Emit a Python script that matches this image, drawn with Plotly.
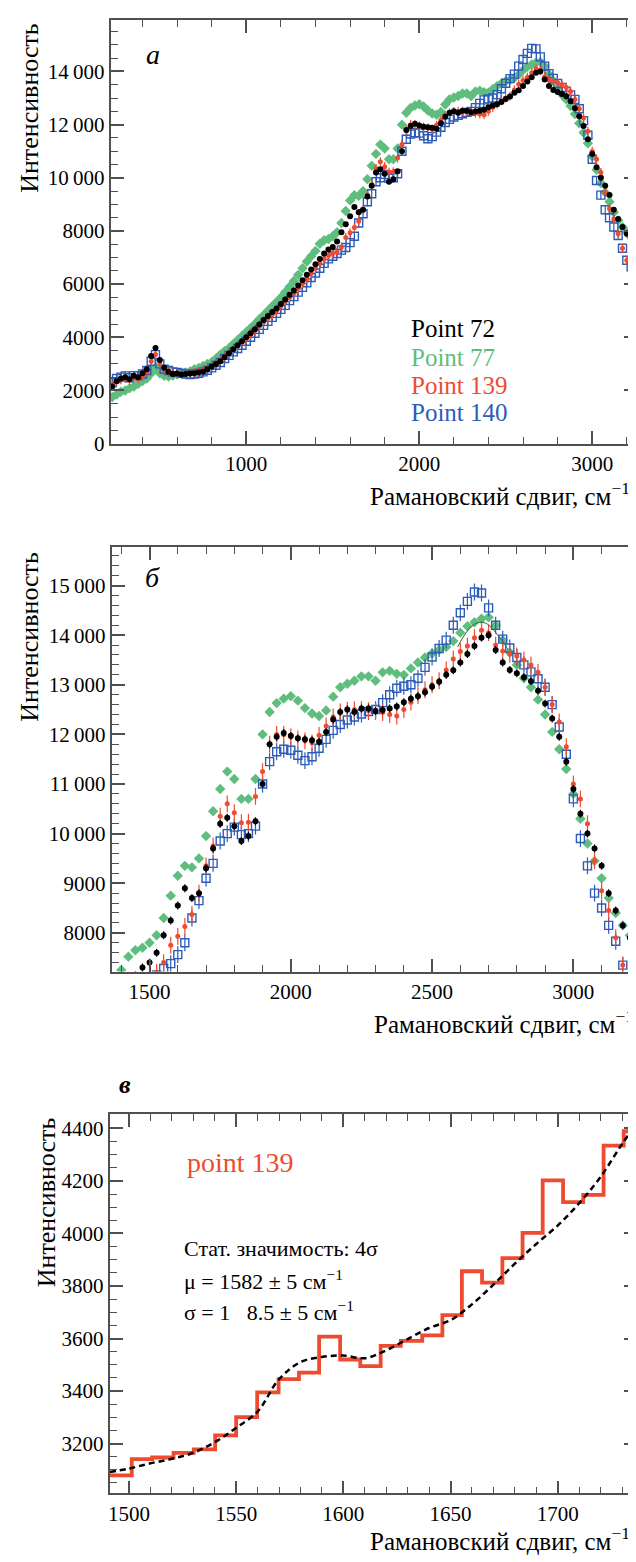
import plotly.graph_objects as go

W, H = 636, 1562
FONT = "'Liberation Serif', 'Times New Roman', Times, serif"


def px(x):
    return x / W


def py(y):
    return 1 - y / H


# ---------------- data: panels a and b (same spectra) ----------------
raman_shift = [
    225, 250, 275, 300, 325, 350, 375, 400, 425, 450,
    475, 500, 525, 550, 575, 600, 625, 650, 675, 700,
    725, 750, 775, 800, 825, 850, 875, 900, 925, 950,
    975, 1000, 1025, 1050, 1075, 1100, 1125, 1150, 1175, 1200,
    1225, 1250, 1275, 1300, 1325, 1350, 1375, 1400, 1425, 1450,
    1475, 1500, 1525, 1550, 1575, 1600, 1625, 1650, 1675, 1700,
    1725, 1750, 1775, 1800, 1825, 1850, 1875, 1900, 1925, 1950,
    1975, 2000, 2025, 2050, 2075, 2100, 2125, 2150, 2175, 2200,
    2225, 2250, 2275, 2300, 2325, 2350, 2375, 2400, 2425, 2450,
    2475, 2500, 2525, 2550, 2575, 2600, 2625, 2650, 2675, 2700,
    2725, 2750, 2775, 2800, 2825, 2850, 2875, 2900, 2925, 2950,
    2975, 3000, 3025, 3050, 3075, 3100, 3125, 3150, 3175, 3200,
    3225, 3250,
]

point72 = [
    2150, 2350, 2450, 2500, 2420, 2550, 2500, 2650, 2800, 3300,
    3600, 3150, 2850, 2700, 2620, 2640, 2600, 2620, 2640, 2650,
    2680, 2700, 2800, 2900, 3000, 3100, 3250, 3400, 3550, 3700,
    3850, 4000, 4150, 4300, 4480, 4650, 4800, 4950, 5080, 5250,
    5420, 5600, 5760, 5950, 6150, 6350, 6550, 6750, 6950, 7150,
    7300, 7400, 7600, 7950, 8250, 8550, 8900, 8700, 8800, 9300,
    9700, 10200, 10320, 10150, 9850, 9950, 10250, 11000, 11800, 11950,
    12030, 11970, 11920, 11900, 11880, 11850, 12050, 12300, 12450, 12500,
    12450, 12520, 12520, 12470, 12490, 12520, 12560, 12650, 12720, 12770,
    12850, 12960, 13060, 13200, 13290, 13450, 13620, 13780, 13950, 14000,
    13700, 13450, 13300, 13230, 13150, 13070, 12880, 12620, 12320, 11950,
    11450, 10900, 10400, 10000, 9700, 9350, 8800, 8450, 8150, 7900,
    7720, 7550,
]

point77 = [
    1750, 1850, 1950, 2000, 2080, 2150, 2250, 2350, 2450, 2650,
    2850, 2650, 2550, 2520, 2560, 2600, 2640, 2680, 2720, 2800,
    2850, 2920, 3000, 3070, 3200, 3350, 3480, 3600, 3750, 3900,
    4050, 4200, 4350, 4500, 4680, 4830, 5000, 5170, 5330, 5500,
    5700, 5900, 6120, 6350, 6600, 6850, 7050, 7250, 7520, 7650,
    7700, 7800, 7950, 8300, 8750, 9150, 9350, 9320, 9500, 9950,
    10450, 10900, 11250, 11100, 10700, 10700, 11100, 12000, 12450, 12630,
    12720, 12770, 12680, 12530, 12420, 12370, 12480, 12760, 12950, 13020,
    13080, 13170, 13170, 13080, 13250, 13280, 13220, 13200, 13330, 13450,
    13550, 13630, 13700, 13760, 13880, 14050, 14180, 14260, 14330, 14360,
    14200, 13900, 13650, 13400, 13130, 12950, 12700, 12400, 12050, 11700,
    11300, 10800, 10300, 9800, 9450, 9100, 8700, 8400, 8150, 7950,
    7750, 7550,
]

point139 = [
    2200, 2350, 2400, 2450, 2380, 2480, 2450, 2550, 2700, 3100,
    3350, 3000, 2780, 2700, 2650, 2650, 2630, 2640, 2650, 2670,
    2700, 2750, 2820, 2920, 3020, 3120, 3260, 3400, 3540, 3680,
    3820, 3960, 4110, 4260, 4420, 4580, 4720, 4870, 5010, 5170,
    5330, 5500, 5660, 5840, 6020, 6200, 6400, 6600, 6780, 6950,
    7080, 7150, 7200, 7400, 7750, 7930, 8130, 8370, 8800, 9350,
    9750, 10350, 10600, 10420, 10220, 10230, 10750, 11250, 11800, 12000,
    12000, 11950, 11910, 11870, 11830, 11980, 12170, 12350, 12450, 12490,
    12500, 12500, 12480, 12460, 12440, 12400, 12370, 12500, 12650, 12780,
    12900, 13000, 13080, 13300, 13520, 13670, 13780, 13950, 14100, 14050,
    13800, 13680, 13620, 13580, 13500, 13400, 13250, 12950, 12600, 12250,
    11750, 11000, 10700, 10200, 9450, 8850, 8450, 7900, 7350, 6900,
    6750, 6700,
]

point140 = [
    2300, 2450, 2500, 2550, 2480, 2560, 2550, 2620, 2750, 3100,
    3350, 3000, 2800, 2750, 2700, 2680, 2650, 2620, 2600, 2620,
    2650, 2700, 2760, 2850, 2950, 3050, 3200, 3320, 3450, 3580,
    3700, 3850, 4000, 4150, 4300, 4450, 4600, 4750, 4900, 5050,
    5200, 5380, 5530, 5700, 5880, 6050, 6250, 6420, 6600, 6780,
    6950, 7050, 7150, 7280, 7380, 7560, 7800, 8300, 8650, 9100,
    9400, 9850, 10000, 10130, 9980, 10000, 10150, 11000, 11450, 11650,
    11700, 11680, 11580, 11470, 11550, 11720, 11900, 12080, 12200, 12290,
    12350, 12410, 12460, 12500, 12640, 12800, 12930, 12970, 13000, 13130,
    13350, 13560, 13730, 13900, 14200, 14450, 14680, 14870, 14850, 14550,
    14200, 13920, 13740, 13550, 13400, 13260, 13120, 12950, 12600, 12150,
    11600, 10700, 9900, 9350, 8800, 8500, 8150, 7830, 7350, 6900,
    6650, 6550,
]

err72 = 80
err77 = 60
err139 = 170
err140 = 170

# thin fitted curve near the maximum of Point 77 (panel b)
fit77_shift = [2590, 2610, 2630, 2650, 2670, 2690, 2710, 2730, 2750, 2770]
fit77_value = [13760, 13960, 14120, 14220, 14260, 14240, 14150, 14020, 13870, 13700]

# ---------------- data: panel c ----------------
bin_edges = [1490.0, 1501.3, 1510.8, 1520.8, 1530.2, 1540.2, 1550.0, 1559.8, 1569.8,
             1579.3, 1588.7, 1598.5, 1607.9, 1617.4, 1626.8, 1636.8, 1646.2, 1655.3,
             1664.7, 1674.2, 1683.6, 1693.0, 1702.5, 1711.9, 1721.4, 1730.8, 1740.2]
counts139 = [3079, 3141, 3147, 3165, 3178, 3231, 3301, 3395, 3445, 3470,
             3607, 3520, 3495, 3572, 3591, 3612, 3689, 3856, 3813, 3906,
             4002, 4202, 4119, 4147, 4334, 4389]

fit_shift = [1491, 1500, 1510, 1520, 1530, 1540, 1550, 1560, 1570, 1580, 1590, 1600, 1610,
             1620, 1630, 1640, 1650, 1660, 1670, 1680, 1690, 1700, 1710, 1720, 1730, 1738]
fit_value = [3092, 3105, 3125, 3142, 3165, 3205, 3260, 3322, 3445, 3510, 3530, 3535, 3525,
             3555, 3598, 3640, 3670, 3730, 3805, 3885, 3960, 4030, 4115, 4215, 4340, 4430]

# ---------------- tick labels ----------------
xa_ticks = [1000, 2000, 3000]
xa_text = ["1000", "2000", "3000"]
ya_ticks = [0, 2000, 4000, 6000, 8000, 10000, 12000, 14000]
ya_text = ["0", "2000", "4000", "6000", "8000", "10\u2009000", "12\u2009000", "14\u2009000"]
xb_ticks = [1500, 2000, 2500, 3000]
xb_text = ["1500", "2000", "2500", "3000"]
yb_ticks = [8000, 9000, 10000, 11000, 12000, 13000, 14000, 15000]
yb_text = ["8000", "9000", "10\u2009000", "11\u2009000", "12\u2009000", "13\u2009000",
           "14\u2009000", "15\u2009000"]
xc_ticks = [1500, 1550, 1600, 1650, 1700]
xc_text = ["1500", "1550", "1600", "1650", "1700"]
yc_ticks = [3200, 3400, 3600, 3800, 4000, 4200, 4400]
yc_text = ["3200", "3400", "3600", "3800", "4000", "4200", "4400"]

C72, C77, C139, C140 = "#000000", "#5fbd7d", "#ef4b30", "#2d5cb8"

fig = go.Figure()

series = [
    ("Point 77", point77, C77, dict(symbol="diamond", size=8), err77),
    ("Point 140", point140, C140, dict(symbol="square-open", size=8, line=dict(width=1.4, color=C140)), err140),
    ("Point 139", point139, C139, dict(symbol="circle", size=5), err139),
    ("Point 72", point72, C72, dict(symbol="circle", size=6), err72),
]
for ax in ["", "2"]:
    for name, ys, color, mk, err in series:
        fig.add_trace(go.Scatter(
            x=raman_shift, y=ys, mode="markers", name=name,
            marker=dict(color=color, **mk),
            error_y=dict(type="constant", value=err, color=color, thickness=1.2, width=0),
            xaxis="x" + ax, yaxis="y" + ax, showlegend=False, cliponaxis=True))

fig.add_trace(go.Scatter(x=fit77_shift, y=fit77_value, mode="lines",
                         line=dict(color="#2f6b3f", width=1, shape="spline"),
                         xaxis="x2", yaxis="y2", showlegend=False))

fig.add_trace(go.Scatter(x=bin_edges, y=counts139 + [counts139[-1]], mode="lines",
                         line=dict(color=C139, width=3.8, shape="hv"),
                         xaxis="x3", yaxis="y3", showlegend=False))
fig.add_trace(go.Scatter(x=fit_shift, y=fit_value, mode="lines",
                         line=dict(color="black", width=2.5, dash="6px,4px", shape="spline"),
                         xaxis="x3", yaxis="y3", showlegend=False))

AXC = "#505050"


def axis(domain, rng, ticks, text, minor_dtick, anchor):
    return dict(domain=domain, range=rng, anchor=anchor,
                tickmode="array", tickvals=ticks, ticktext=text,
                showline=True, linecolor=AXC, linewidth=1.8, mirror="allticks",
                ticks="inside", tickcolor=AXC, tickwidth=1.5, ticklen=13,
                showgrid=False, zeroline=False,
                tickfont=dict(family=FONT, size=21, color="black"),
                minor=dict(ticks="inside", ticklen=7, tickcolor=AXC, tickwidth=1.2,
                           dtick=minor_dtick, tick0=0, showgrid=False))


fig.update_layout(
    width=W, height=H, autosize=False,
    margin=dict(l=0, r=0, t=0, b=0),
    paper_bgcolor="white", plot_bgcolor="white",
    font=dict(family=FONT, color="black"),
    xaxis=axis([px(101), px(629)], [216, 3259], xa_ticks, xa_text, 200, "y"),
    yaxis=axis([py(439), py(12)], [0, 15940], ya_ticks, ya_text, 500, "x"),
    xaxis2=axis([px(102), px(634)], [1366, 3243], xb_ticks, xb_text, 100, "y2"),
    yaxis2=axis([py(971), py(543)], [7220, 15780], yb_ticks, yb_text, 200, "x2"),
    xaxis3=axis([px(100), px(629)], [1491, 1737], xc_ticks, xc_text, 10, "y3"),
    yaxis3=axis([py(1497), py(1115)], [3010, 4453], yc_ticks, yc_text, 50, "x3"),
)

ann = []


def text(t, x, y, size, color="black", xanchor="center", yanchor="middle", angle=0):
    ann.append(dict(text=t, x=px(x), y=py(y), xref="paper", yref="paper",
                    xanchor=xanchor, yanchor=yanchor, showarrow=False, textangle=angle,
                    font=dict(family=FONT, size=size, color=color)))


ytitle = "Интенсивность"
xtitle = "Рамановский сдвиг, см<sup>−1</sup>"
text(ytitle, 20, 13, 26, yanchor="top", angle=-90)
text(ytitle, 20, 546, 26, yanchor="top", angle=-90)
text(ytitle, 37, 1116, 26, yanchor="top", angle=-90)
text(xtitle, 624, 490, 25, xanchor="right")
text(xtitle, 628, 1022, 25, xanchor="right")
text(xtitle, 624, 1543, 25, xanchor="right")

text("<i>а</i>", 143, 47, 28)
text("<i>б</i>", 143, 574, 28)
text("<b><i>в</i></b>", 115, 1085, 26)

legend_rows = [("Point 72", C72, 323), ("Point 77", C77, 352),
               ("Point 139", C139, 380), ("Point 140", C140, 408)]
for label, color, yy in legend_rows:
    text(label, 400, yy, 25, color=color, xanchor="left")

text("point 139", 176, 1163, 28, color=C139, xanchor="left")
text("Стат. значимость: 4σ", 173, 1250, 22, xanchor="left")
text("μ = 1582 ± 5 см<sup>−1</sup>", 173, 1282, 22, xanchor="left")
text("σ = 1\u00a0\u00a0\u00a08.5 ± 5 см<sup>−1</sup>", 173, 1313, 22, xanchor="left")

fig.update_layout(annotations=ann)

fig.write_html("out.html")
